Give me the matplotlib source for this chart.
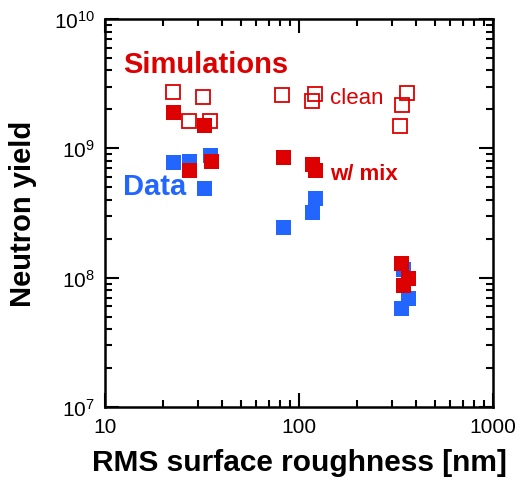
import numpy as np
import matplotlib.pyplot as plt
from matplotlib.ticker import LogLocator, NullFormatter

plt.rcParams['font.family'] = ['Liberation Sans', 'DejaVu Sans']
plt.rcParams['mathtext.fontset'] = 'custom'
plt.rcParams['mathtext.rm'] = 'Liberation Sans'
plt.rcParams['mathtext.it'] = 'Liberation Sans:italic'
plt.rcParams['mathtext.bf'] = 'Liberation Sans:bold'

# measured data
data_x = [22.5, 27.0, 34.8, 32.4, 121, 117, 83, 335, 363, 345]
data_y = [7.9e8, 8.0e8, 8.9e8, 4.9e8, 4.1e8, 3.2e8, 2.45e8, 5.8e7, 6.95e7, 1.17e8]

# simulations with mix
mix_x = [22.5, 32.4, 27.2, 35.0, 83, 117, 121, 335, 363, 342]
mix_y = [1.90e9, 1.52e9, 6.8e8, 8.0e8, 8.5e8, 7.6e8, 6.8e8, 1.29e8, 1.0e8, 8.8e7]

# clean simulations
clean_x = [22.3, 32.1, 27.0, 34.8, 82, 116, 121, 341, 362, 333]
clean_y = [2.71e9, 2.51e9, 1.62e9, 1.62e9, 2.57e9, 2.33e9, 2.63e9, 2.16e9, 2.66e9, 1.49e9]

red = '#dd0000'
blue = '#2266ff'

fig = plt.figure(figsize=(5.2, 4.81), dpi=100)
ax = fig.add_axes([105/520, 1-408/481, 388/520, 388/481])

ax.plot(data_x, data_y, 's', color=blue, markersize=10.8, markeredgewidth=0)
ax.plot(mix_x, mix_y, 's', color=red, markersize=10.8, markeredgewidth=0)
ax.plot(clean_x, clean_y, 's', markerfacecolor='none', markeredgecolor=red,
        markersize=9.5, markeredgewidth=1.3)

ax.set_xscale('log')
ax.set_yscale('log')
ax.set_xlim(10, 1000)
ax.set_ylim(1e7, 1e10)

ax.xaxis.set_minor_locator(LogLocator(base=10, subs=np.arange(2, 10)))
ax.xaxis.set_minor_formatter(NullFormatter())
ax.yaxis.set_minor_locator(LogLocator(base=10, subs=np.arange(2, 10)))
ax.yaxis.set_minor_formatter(NullFormatter())
ax.set_xticks([10, 100, 1000])
ax.set_xticklabels(['10', '100', '1000'])
ax.set_yticks([1e7, 1e8, 1e9, 1e10])
ax.set_yticklabels([r'$10^7$', r'$10^8$', r'$10^9$', r'$10^{10}$'])

ax.tick_params(which='both', direction='in', top=True, right=True,
               labelsize=15, width=1.5)
ax.tick_params(which='major', length=10, pad=7)
ax.tick_params(which='minor', length=5)
for s in ax.spines.values():
    s.set_linewidth(1.8)

ax.set_xlabel('RMS surface roughness [nm]', fontsize=21.5, fontweight='bold', labelpad=9)
ax.set_ylabel('Neutron yield', fontsize=21, fontweight='bold', labelpad=12)

fig.text(123/520, 1-65/481, 'Simulations', color=red, fontsize=21,
         fontweight='bold', va='center', ha='left')
fig.text(123/520, 1-187/481, 'Data', color=blue, fontsize=21,
         fontweight='bold', va='center', ha='left')
fig.text(330/520, 1-99/481, 'clean', color=red, fontsize=16,
         va='center', ha='left')
fig.text(330/520, 1-174/481, 'w/ mix', color=red, fontsize=16,
         fontweight='bold', va='center', ha='left')

fig.savefig('out.png', dpi=100)
